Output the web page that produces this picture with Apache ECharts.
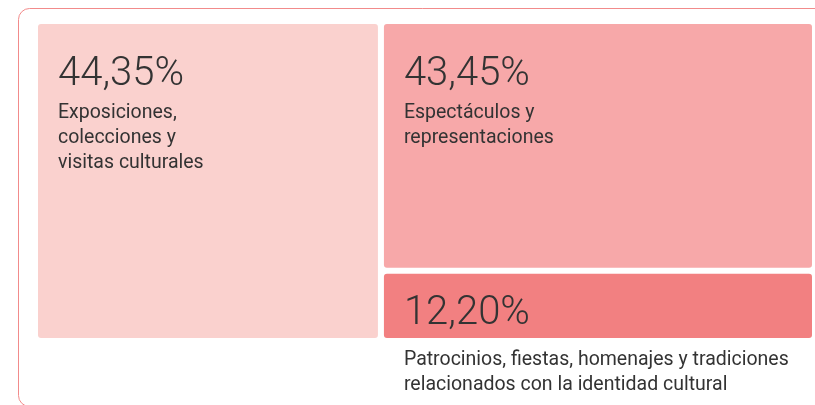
<!DOCTYPE html>
<html>
<head>
<meta charset="utf-8">
<script src="https://cdn.jsdelivr.net/npm/echarts@6/dist/echarts.min.js"></script>
<style>
    html, body { margin: 0; padding: 0; background: #fff; }
    #chart { width: 815px; height: 405px; }
</style>
</head>
<body>
<div id="chart"></div>
<script>
// Datos: reparto por tipo de actividad cultural
var shares = [44.35, 43.45, 12.20];
var shareLabels = ['44,35%', '43,45%', '12,20%'];
var categories = [
    'Exposiciones,\ncolecciones y\nvisitas culturales',
    'Espectáculos y\nrepresentaciones',
    'Patrocinios, fiestas, homenajes y tradiciones\nrelacionados con la identidad cultural'
];
var colors = ['#FAD1CE', '#F7A8A9', '#F28081'];

var chart = echarts.init(document.getElementById('chart'));

// Bloque grande a la izquierda, los otros dos apilados a la derecha
var total = shares[0] + shares[1] + shares[2];
var leftEnd = shares[0] / total * 100;
var restTotal = shares[1] + shares[2];
var split = shares[2] / restTotal * 100;

// [x0, x1, y0, y1, indice]
var blocks = [
    [0, leftEnd, 0, 100, 0],
    [leftEnd, 100, split, 100, 1],
    [leftEnd, 100, 0, split, 2]
];

var gap = 3;

function renderBlock(params, api) {
    var i = api.value(4);
    var p0 = api.coord([api.value(0), api.value(3)]);
    var p1 = api.coord([api.value(1), api.value(2)]);
    var x = p0[0] + gap;
    var y = p0[1] + gap;
    var w = p1[0] - p0[0] - gap * 2;
    var h = p1[1] - p0[1] - gap * 2;
    var small = h < 100;

    var numY = small ? y + h - 44 : y + 31;
    var descY = small ? y + h + 10 : y + 77;

    return {
        type: 'group',
        children: [
            {
                type: 'rect',
                shape: { x: x, y: y, width: w, height: h, r: 3 },
                style: { fill: colors[i] }
            },
            {
                type: 'text',
                style: {
                    text: shareLabels[i],
                    x: x + 20,
                    y: numY,
                    fontFamily: 'Roboto',
                    fontWeight: 300,
                    fontSize: 40,
                    lineHeight: 40,
                    fill: '#333',
                    verticalAlign: 'top'
                }
            },
            {
                type: 'text',
                style: {
                    text: categories[i],
                    x: x + 20,
                    y: descY,
                    fontFamily: 'Roboto',
                    fontSize: 19.5,
                    lineHeight: 25,
                    fill: '#333',
                    verticalAlign: 'top'
                }
            }
        ]
    };
}

var option = {
    animation: false,
    graphic: [
        {
            type: 'rect',
            shape: { x: 18.5, y: 8.5, width: 840, height: 398, r: 11 },
            style: { fill: 'none', stroke: '#F28B8B', lineWidth: 1 },
            z: -1
        }
    ],
    grid: { left: 35, top: 21, width: 781, height: 320 },
    xAxis: { type: 'value', min: 0, max: 100, show: false },
    yAxis: { type: 'value', min: 0, max: 100, show: false },
    series: [
        {
            type: 'custom',
            renderItem: renderBlock,
            clip: false,
            data: blocks
        }
    ]
};

chart.setOption(option);
</script>
</body>
</html>
